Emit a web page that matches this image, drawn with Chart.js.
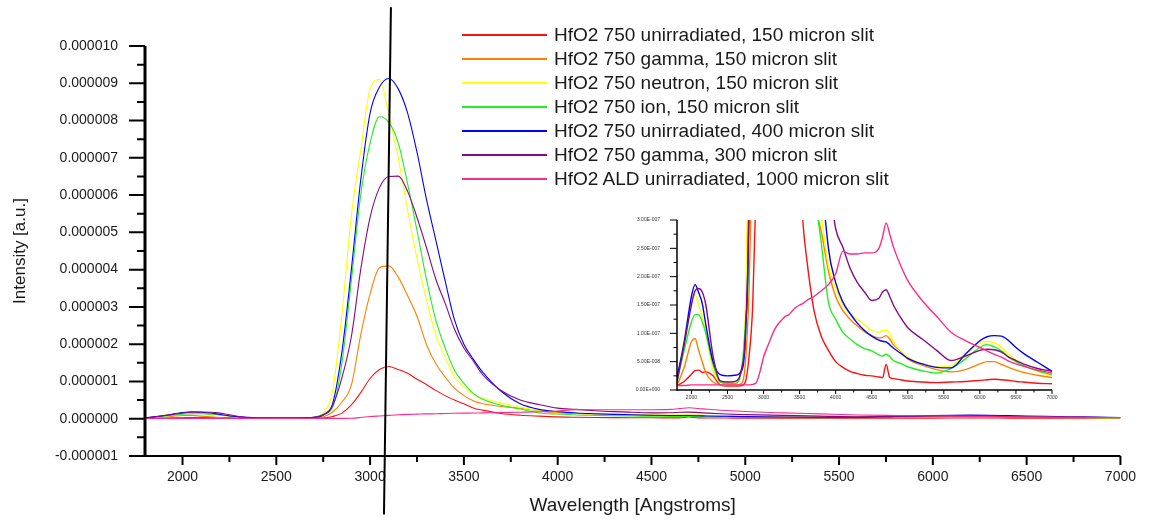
<!DOCTYPE html>
<html>
<head>
<meta charset="utf-8">
<script src="https://cdn.jsdelivr.net/npm/chart.js@4.4.0/dist/chart.umd.min.js"></script>
<style>
  body { margin: 0; background: #fff; }
  #wrap { position: relative; width: 1149px; height: 520px; overflow: hidden; }
  #main { position: absolute; left: 0; top: 0; }
  #inset { position: absolute; left: 620px; top: 200px; }
  #legend { position: absolute; left: 462px; top: 23px; font-family: "Liberation Sans", Arial, sans-serif; font-size: 19px; color: #1a1a1a; }
  .row { height: 24px; display: flex; align-items: center; white-space: nowrap; }
  .swatch { display: inline-block; width: 85px; height: 2px; margin-right: 7px; }
</style>
</head>
<body>
<div id="wrap">
  <canvas id="main" width="1149" height="520"></canvas>
  <canvas id="inset" width="445" height="215"></canvas>
  <div id="legend"></div>
</div>
<script>
// wavelength grid (Angstroms)
const wavelengths = [1800, 1900, 2000, 2050, 2100, 2150, 2200, 2300, 2400, 2500,
  2600, 2700, 2750, 2800, 2850, 2900, 2950, 3000, 3050, 3100,
  3150, 3200, 3250, 3300, 3350, 3400, 3450, 3500, 3550, 3600,
  3700, 3800, 3900, 4000, 4100, 4200, 4300, 4400, 4500, 4600,
  4650, 4700, 4750, 4800, 4900, 5000, 5200, 5400, 5600, 5800,
  6000, 6100, 6200, 6300, 6400, 6500, 6600, 6800, 7000];

// intensities, in units of 1e-8 a.u.
const unirr150 = [0.8, 1.5, 2.8, 3.4, 3.5, 3.1, 3.2, 2.5, 0.9, 0.7,
  0.7, 0.8, 1.5, 6, 15, 37, 70, 108, 132, 140,
  132, 122, 106, 92, 76, 62, 50, 40, 29, 23,
  14, 9.5, 7, 5, 4, 3.3, 2.9, 2.6, 2.5, 2.3,
  2.2, 4.5, 2.2, 2.0, 1.8, 1.6, 1.4, 1.3, 1.4, 1.5,
  1.7, 1.8, 1.9, 1.8, 1.7, 1.5, 1.4, 1.2, 1.1];
const gamma150 = [0.8, 4, 8.5, 9.1, 7, 5, 3, 1.4, 0.9, 0.8,
  0.8, 1.2, 5, 18, 45, 90, 225, 335, 405, 410,
  380, 330, 275, 200, 148, 112, 82, 62, 48, 40,
  33, 28, 21, 16.5, 14, 12.5, 11.3, 10.3, 9.6, 9.2,
  9.3, 9.6, 9, 8, 6.9, 5.5, 4.4, 3.6, 3.2, 3.6,
  4.6, 5, 5, 4.5, 4, 3.5, 3.1, 2.6, 2.2];
const neutron150 = [1.4, 9, 15.5, 16.8, 15, 13, 10, 3.5, 1.4, 1.3,
  1.4, 4, 15, 75, 280, 545, 720, 885, 910, 815,
  700, 560, 430, 320, 225, 165, 112, 85, 66, 55,
  42, 31, 22, 18, 15, 13.5, 12.5, 11.5, 10.5, 10.2,
  10.5, 10.5, 10, 8.5, 7, 5.8, 4.6, 4.1, 4.3, 6.5,
  8.3, 8.6, 8.3, 7.5, 6.3, 5.3, 4.5, 3.3, 2.5];
const ion150 = [1.6, 7, 12, 13.3, 13.3, 12, 10, 4.5, 1.4, 1.1,
  1.1, 4, 12, 30, 150, 370, 600, 740, 810, 795,
  740, 630, 505, 375, 265, 190, 130, 95, 68, 52,
  36, 26, 15.5, 12.5, 10.2, 9, 8, 7.3, 6.9, 6.2,
  6, 6.3, 5.9, 5.2, 4.7, 4.1, 3.4, 3.0, 3.8, 5.5,
  7.5, 8, 7.6, 6.9, 5.8, 5, 4.3, 3.4, 2.7];
const unirr400 = [2.2, 8.5, 16.5, 18.6, 17.2, 15.3, 11.5, 5, 2.7, 2.5,
  2.6, 3.5, 10, 40, 180, 400, 640, 820, 890, 913,
  885, 820, 715, 590, 480, 370, 265, 200, 160, 125,
  73, 40, 25, 19, 15.5, 13.5, 11.8, 10.5, 9.5, 8.8,
  8.6, 8.5, 8, 7.4, 6.5, 5.6, 4.6, 4, 3.9, 6.3,
  8.7, 9.4, 9.6, 9.5, 8.7, 7.5, 6.5, 4.9, 3.3];
const gamma300 = [1.4, 8, 15, 17.5, 17.9, 17.3, 15, 6, 1.6, 1.4,
  1.5, 4, 10, 35, 110, 220, 400, 540, 620, 650,
  651, 610, 540, 460, 375, 310, 240, 190, 155, 118,
  75, 50, 38, 28.5, 25.2, 21.5, 19, 17.3, 15.8, 16.2,
  17.3, 17.7, 16.5, 15, 12.8, 11, 9, 7, 5.2, 6,
  7, 7.2, 7.1, 6.7, 5.8, 5.2, 4.6, 3.8, 3.3];
const ald1000 = [0.8, 0.8, 0.9, 0.9, 0.9, 0.9, 0.9, 0.9, 0.9, 0.9,
  0.9, 0.9, 0.9, 0.9, 1.0, 1.3, 3.2, 5.8, 7.5, 9.1,
  10.6, 11.6, 12.3, 13, 13.3, 14, 14.6, 15, 15.3, 15.8,
  16.5, 17.5, 18.6, 20.5, 24.5, 24, 24, 24.2, 24.2, 25,
  27, 29.5, 27.5, 25.3, 22, 19.3, 15.8, 13, 10.2, 8.7,
  7.5, 6.9, 6.3, 5.8, 5.1, 4.6, 4.2, 3.5, 3];

const seriesNames = [
  'HfO2 750 unirradiated, 150 micron slit',
  'HfO2 750 gamma, 150 micron slit',
  'HfO2 750 neutron, 150 micron slit',
  'HfO2 750 ion, 150 micron slit',
  'HfO2 750 unirradiated, 400 micron slit',
  'HfO2 750 gamma, 300 micron slit',
  'HfO2 ALD unirradiated, 1000 micron slit'
];
const seriesValues = [unirr150, gamma150, neutron150, ion150, unirr400, gamma300, ald1000];
const seriesColors = ['#ff1010', '#ff8000', '#ffff00', '#22ee22', '#0000ff', '#850a85', '#ff2a8a'];

// marker line drawn across the plot
const markerX = [3111, 3074];
const markerY = [1104, -257];

// axis ticks
const xTicks = [2000, 2500, 3000, 3500, 4000, 4500, 5000, 5500, 6000, 6500, 7000];
const yTicks = [-100, 0, 100, 200, 300, 400, 500, 600, 700, 800, 900, 1000];
const insetYTicks = [0, 5, 10, 15, 20, 25, 30];

const FONT = '"Liberation Sans", Arial, sans-serif';

function mids(arr) {
  return arr.slice(1).map((v, i) => (v + arr[i]) / 2);
}

// draws axis lines with major and minor tick marks
function axisMarks(cfg) {
  return {
    id: 'axisMarks',
    afterDraw(chart) {
      const ctx = chart.ctx, a = chart.chartArea;
      const xs = chart.scales.x, ys = chart.scales.y;
      ctx.save();
      ctx.strokeStyle = '#000';
      ctx.lineWidth = cfg.tickWidth;
      ctx.beginPath();
      cfg.xMajor.forEach(v => {
        const p = xs.getPixelForValue(v);
        ctx.moveTo(p, a.bottom); ctx.lineTo(p, a.bottom + cfg.xLen[0]);
      });
      mids(cfg.xMajor).forEach(v => {
        const p = xs.getPixelForValue(v);
        ctx.moveTo(p, a.bottom); ctx.lineTo(p, a.bottom + cfg.xLen[1]);
      });
      cfg.yMajor.forEach(v => {
        const p = ys.getPixelForValue(v);
        ctx.moveTo(a.left, p); ctx.lineTo(a.left - cfg.yLen[0], p);
      });
      mids(cfg.yMajor).forEach(v => {
        const p = ys.getPixelForValue(v);
        ctx.moveTo(a.left, p); ctx.lineTo(a.left - cfg.yLen[1], p);
      });
      ctx.stroke();
      ctx.lineWidth = cfg.xAxisWidth;
      ctx.beginPath();
      ctx.moveTo(a.left, a.bottom); ctx.lineTo(a.right, a.bottom);
      ctx.stroke();
      ctx.lineWidth = cfg.yAxisWidth;
      ctx.beginPath();
      ctx.moveTo(a.left, a.top); ctx.lineTo(a.left, a.bottom + cfg.xAxisWidth / 2);
      ctx.stroke();
      ctx.restore();
    }
  };
}

function buildDatasets(width) {
  return seriesValues.map((vals, i) => ({
    label: seriesNames[i],
    data: wavelengths.map((w, j) => ({ x: w, y: vals[j] })),
    borderColor: seriesColors[i],
    borderWidth: width,
    pointRadius: 0,
    fill: false,
    cubicInterpolationMode: 'monotone',
    order: seriesValues.length - i
  }));
}

// main chart
const mainSets = buildDatasets(1.1);
mainSets.push({
  label: 'marker',
  data: markerX.map((x, i) => ({ x: x, y: markerY[i] })),
  borderColor: '#000',
  borderWidth: 2,
  pointRadius: 0,
  clip: false,
  order: 0
});

new Chart(document.getElementById('main'), {
  type: 'line',
  data: { datasets: mainSets },
  options: {
    responsive: false,
    animation: false,
    events: [],
    layout: { padding: { left: 0, right: 20, top: 46, bottom: 0 } },
    plugins: { legend: { display: false }, tooltip: { enabled: false } },
    scales: {
      x: {
        type: 'linear', min: 1800, max: 7000,
        afterBuildTicks: s => { s.ticks = xTicks.map(v => ({ value: v })); },
        afterFit: s => { s.height = 64; },
        grid: { display: false, drawTicks: false },
        border: { display: false },
        ticks: { autoSkip: false, maxRotation: 0, padding: 13, color: '#1a1a1a', font: { family: FONT, size: 14 },
                 callback: v => String(v) },
        title: { display: true, text: 'Wavelength [Angstroms]', color: '#1a1a1a',
                 font: { family: FONT, size: 19 }, padding: { top: 0, bottom: 3 } }
      },
      y: {
        type: 'linear', min: -100, max: 1000,
        afterBuildTicks: s => { s.ticks = yTicks.map(v => ({ value: v })); },
        afterFit: s => { s.width = 145; },
        grid: { display: false, drawTicks: false },
        border: { display: false },
        ticks: { autoSkip: false, padding: 27, color: '#1a1a1a', font: { family: FONT, size: 14 },
                 callback: v => (v * 1e-8).toFixed(6) },
        title: { display: true, text: 'Intensity [a.u.]', color: '#1a1a1a',
                 font: { family: FONT, size: 17 }, padding: { top: 10, bottom: 0 } }
      }
    }
  },
  plugins: [axisMarks({ xMajor: xTicks, yMajor: yTicks, xLen: [9, 6], yLen: [16, 8],
                        tickWidth: 2, xAxisWidth: 2, yAxisWidth: 3 })]
});

// inset zoomed on the low-intensity part
function sci(v) {
  if (v === 0) return '0.00E+000';
  const val = v * 1e-8;
  const e = Math.floor(Math.log10(val) + 1e-9);
  const m = val / Math.pow(10, e);
  return m.toFixed(2) + 'E' + (e < 0 ? '-' : '+') + String(Math.abs(e)).padStart(3, '0');
}

new Chart(document.getElementById('inset'), {
  type: 'line',
  data: { datasets: buildDatasets(1.4) },
  options: {
    responsive: false,
    animation: false,
    events: [],
    layout: { padding: { left: 0, right: 13, top: 8, bottom: 0 } },
    plugins: { legend: { display: false }, tooltip: { enabled: false } },
    scales: {
      x: {
        type: 'linear', min: 1800, max: 7000,
        afterBuildTicks: s => { s.ticks = xTicks.map(v => ({ value: v })); },
        afterFit: s => { s.height = 25; },
        grid: { display: false, drawTicks: false },
        border: { display: false },
        ticks: { autoSkip: false, maxRotation: 0, padding: 5, color: '#333', font: { family: FONT, size: 5 },
                 callback: v => String(v) }
      },
      y: {
        type: 'linear', min: 0, max: 30,
        afterBuildTicks: s => { s.ticks = insetYTicks.map(v => ({ value: v })); },
        afterFit: s => { s.width = 57; },
        grid: { display: false, drawTicks: false },
        border: { display: false },
        ticks: { autoSkip: false, padding: 17, color: '#333', font: { family: FONT, size: 5 },
                 callback: v => sci(v) }
      }
    }
  },
  plugins: [axisMarks({ xMajor: xTicks, yMajor: insetYTicks, xLen: [4, 2.5], yLen: [7, 3.5],
                        tickWidth: 1, xAxisWidth: 1.5, yAxisWidth: 1.5 })]
});

// legend
const legend = document.getElementById('legend');
seriesNames.forEach((name, i) => {
  const row = document.createElement('div');
  row.className = 'row';
  const sw = document.createElement('span');
  sw.className = 'swatch';
  sw.style.backgroundColor = seriesColors[i];
  const txt = document.createElement('span');
  txt.textContent = name;
  row.appendChild(sw);
  row.appendChild(txt);
  legend.appendChild(row);
});
</script>
</body>
</html>
